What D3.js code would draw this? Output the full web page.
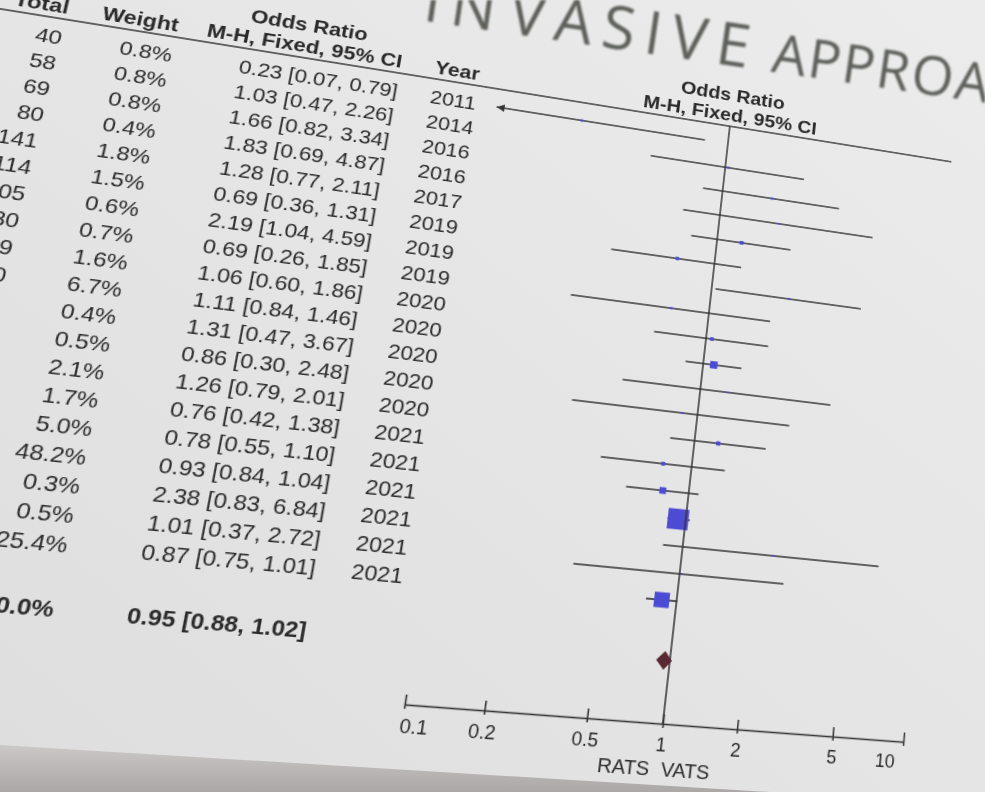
<!DOCTYPE html>
<html>
<head>
<meta charset="utf-8">
<script src="https://cdn.jsdelivr.net/npm/d3@7"></script>
<style>
  html, body { margin: 0; padding: 0; width: 985px; height: 792px; overflow: hidden; background: #e6e6e6; }
  #bg, #title { position: absolute; left: 0; top: 0; }
  #title { filter: blur(0.8px); }
  #plane { position: absolute; left: 0; top: 0; transform-origin: 0 0; filter: blur(0.4px); }
  #plane text { font-family: "Liberation Sans", Arial, sans-serif; fill: #2a2a2a; }
</style>
</head>
<body>
<svg id="bg" width="985" height="792"></svg>
<div id="plane"></div>
<svg id="title" width="985" height="792"></svg>
<script>

//  Data

var studyTotal = ["40", "58", "69", "80", "141", "114", "105", "230", "39", "80", "49", "70", "61", "", "", "", "", "", ""];
var weightPct  = [0.8, 0.8, 0.8, 0.4, 1.8, 1.5, 0.6, 0.7, 1.6, 6.7, 0.4, 0.5, 2.1, 1.7, 5.0, 48.2, 0.3, 0.5, 25.4];
var oddsRatio  = [0.23, 1.03, 1.66, 1.83, 1.28, 0.69, 2.19, 0.69, 1.06, 1.11, 1.31, 0.86, 1.26, 0.76, 0.78, 0.93, 2.38, 1.01, 0.87];
var ciLow      = [0.07, 0.47, 0.82, 0.69, 0.77, 0.36, 1.04, 0.26, 0.60, 0.84, 0.47, 0.30, 0.79, 0.42, 0.55, 0.84, 0.83, 0.37, 0.75];
var ciHigh     = [0.79, 2.26, 3.34, 4.87, 2.11, 1.31, 4.59, 1.85, 1.86, 1.46, 3.67, 2.48, 2.01, 1.38, 1.10, 1.04, 6.84, 2.72, 1.01];
var studyYear  = [2011, 2014, 2016, 2016, 2017, 2019, 2019, 2019, 2020, 2020, 2020, 2020, 2020, 2021, 2021, 2021, 2021, 2021, 2021];
var pooledOR   = [0.95, 0.88, 1.02];   // estimate, low, high
var pooledWeight = "100.0%";
var tickValues = [0.1, 0.2, 0.5, 1, 2, 5, 10];
var favourLabels = ["RATS", "VATS"];


//  Layout of the flat sheet (before the camera tilt)

var OFF = 300;                 // room on the left for the cut off columns
var ROW_H = 27;
var Y_HEAD = 100;              // header underline
var ROW0 = 120;                // first study row
var TOTAL_Y = ROW0 + 18 * ROW_H + 58;
var AXIS_Y = TOTAL_Y + 60;
var COL_TOTAL = 148, COL_WEIGHT = 248, COL_OR = 386, COL_YEAR = 494;
var PLOT_X0 = 560, PLOT_X1 = 1040;
var FONT = 21;

var x = d3.scaleLog().domain([0.1, 10]).range([PLOT_X0, PLOT_X1]);
var boxSize = d3.scaleSqrt().domain([0, 50]).range([0, 21]);
function rowY(i) { return ROW0 + i * ROW_H; }
function fmt(v) { return v.toFixed(2); }


//  Camera: flat sheet point -> where it sits in the photo

var camera = [
    [PLOT_X0, AXIS_Y, 400, 697],
    [PLOT_X1, AXIS_Y, 906, 727],
    [x(1), AXIS_Y, 666, 714],
    [x(1), Y_HEAD, 732, 136],
    [COL_OR - 84.5, rowY(0), 227, 65],
    [COL_OR - 84.5, rowY(18), 130, 562],
    [PLOT_X0, rowY(0), 493, 100],
    [x(0.47), rowY(1), 648, 155],
    [x(2.26), rowY(1), 805, 183],
    [x(6.84), rowY(16), 884, 571],
    [x(0.93), rowY(15), 680, 525],
    [x(0.87), rowY(18), 662, 605],
    [x(0.95), TOTAL_Y, 664, 660],
    [COL_TOTAL, rowY(0), 75, 32],
    [COL_WEIGHT, rowY(0), 177, 44],
    [COL_YEAR, rowY(0), 418, 98],
    [COL_WEIGHT, rowY(18), 72, 550],
    [COL_YEAR, rowY(18), 340, 582]
];

function fitHomography(pairs){
    var s = 1000;
    var M = [], B = [];
    for (var i = 0; i < 8; i++) { M.push([0, 0, 0, 0, 0, 0, 0, 0]); B.push(0); }

    pairs.forEach(function(p){
        var px = (p[0] + OFF) / s, py = p[1] / s, u = p[2] / s, v = p[3] / s;
        var rows = [
            [px, py, 1, 0, 0, 0, -u * px, -u * py, u],
            [0, 0, 0, px, py, 1, -v * px, -v * py, v]
        ];
        rows.forEach(function(r){
            for (var a = 0; a < 8; a++){
                for (var b = 0; b < 8; b++) M[a][b] += r[a] * r[b];
                B[a] += r[a] * r[8];
            }
        });
    });

    // gaussian elimination
    for (var c = 0; c < 8; c++){
        var piv = c;
        for (var r = c + 1; r < 8; r++) if (Math.abs(M[r][c]) > Math.abs(M[piv][c])) piv = r;
        var tmp = M[c]; M[c] = M[piv]; M[piv] = tmp;
        var tb = B[c]; B[c] = B[piv]; B[piv] = tb;
        for (r = c + 1; r < 8; r++){
            var f = M[r][c] / M[c][c];
            for (var k = c; k < 8; k++) M[r][k] -= f * M[c][k];
            B[r] -= f * B[c];
        }
    }
    var h = [];
    for (c = 7; c >= 0; c--){
        var sum = B[c];
        for (k = c + 1; k < 8; k++) sum -= M[c][k] * h[k];
        h[c] = sum / M[c][c];
    }
    return [h[0], h[1], h[2] * s, h[3], h[4], h[5] * s, h[6] / s, h[7] / s];
}

var H = fitHomography(camera);
d3.select("#plane").style("transform",
    "matrix3d(" + [H[0], H[3], 0, H[6], H[1], H[4], 0, H[7], 0, 0, 1, 0, H[2], H[5], 0, 1].join(",") + ")");


//  Background of the photo

var bg = d3.select("#bg");
var defs = bg.append("defs");
var g1 = defs.append("linearGradient").attr("id", "paper").attr("x1", 1).attr("y1", 0).attr("x2", 0).attr("y2", 1);
g1.append("stop").attr("offset", 0).attr("stop-color", "#ececec");
g1.append("stop").attr("offset", 1).attr("stop-color", "#dedede");
var g2 = defs.append("linearGradient").attr("id", "edge").attr("x1", 0).attr("y1", 0).attr("x2", 0).attr("y2", 1);
g2.append("stop").attr("offset", 0).attr("stop-color", "#cdc8c8");
g2.append("stop").attr("offset", 1).attr("stop-color", "#aca7a7");

bg.append("rect").attr("width", 985).attr("height", 792).attr("fill", "url(#paper)");
bg.append("polygon").attr("points", "0,745 770,792 0,792").attr("fill", "url(#edge)");


//  Flat sheet

var svg = d3.select("#plane")
    .append("svg")
    .attr("width", OFF + 1100)
    .attr("height", 800)
    .append("g")
    .attr("transform", "translate(" + OFF + ",0)");

// header
var head = svg.append("g").style("font-size", FONT + "px").style("font-weight", "bold");
head.append("text").attr("x", COL_TOTAL).attr("y", Y_HEAD - 6).attr("text-anchor", "end").text("Total");
head.append("text").attr("x", COL_WEIGHT).attr("y", Y_HEAD - 6).attr("text-anchor", "end").text("Weight");
head.append("text").attr("x", COL_OR - 18).attr("y", Y_HEAD - 29).attr("text-anchor", "middle").text("Odds Ratio");
head.append("text").attr("x", COL_OR - 18).attr("y", Y_HEAD - 6).attr("text-anchor", "middle").text("M-H, Fixed, 95% CI");
head.append("text").attr("x", COL_YEAR).attr("y", Y_HEAD - 6).text("Year");
head.append("text").attr("x", x(1)).attr("y", Y_HEAD - 29).attr("text-anchor", "middle").text("Odds Ratio");
head.append("text").attr("x", x(1)).attr("y", Y_HEAD - 6).attr("text-anchor", "middle").text("M-H, Fixed, 95% CI");

svg.append("line")
    .attr("x1", -OFF).attr("x2", PLOT_X1 + 6)
    .attr("y1", Y_HEAD).attr("y2", Y_HEAD)
    .attr("stroke", "#333").attr("stroke-width", 1.6);

// table columns
var rows = svg.selectAll("g.row")
    .data(oddsRatio)
    .enter()
    .append("g")
    .attr("class", "row")
    .attr("transform", function(d, i) { return "translate(0," + rowY(i) + ")"; })
    .style("font-size", FONT + "px");

rows.append("text").attr("x", COL_TOTAL).attr("dy", "0.35em").attr("text-anchor", "end")
    .text(function(d, i) { return studyTotal[i]; });
rows.append("text").attr("x", COL_WEIGHT).attr("dy", "0.35em").attr("text-anchor", "end")
    .text(function(d, i) { return weightPct[i].toFixed(1) + "%"; });
rows.append("text").attr("x", COL_OR).attr("dy", "0.35em").attr("text-anchor", "middle")
    .text(function(d, i) { return fmt(d) + " [" + fmt(ciLow[i]) + ", " + fmt(ciHigh[i]) + "]"; });
rows.append("text").attr("x", COL_YEAR).attr("dy", "0.35em")
    .text(function(d, i) { return studyYear[i]; });

// total row
var tot = svg.append("g").attr("transform", "translate(0," + TOTAL_Y + ")")
    .style("font-size", FONT + "px").style("font-weight", "bold");
tot.append("text").attr("x", COL_WEIGHT).attr("dy", "0.35em").attr("text-anchor", "end").text(pooledWeight);
tot.append("text").attr("x", COL_OR).attr("dy", "0.35em").attr("text-anchor", "middle")
    .text(fmt(pooledOR[0]) + " [" + fmt(pooledOR[1]) + ", " + fmt(pooledOR[2]) + "]");

// line of no effect
svg.append("line")
    .attr("x1", x(1)).attr("x2", x(1))
    .attr("y1", Y_HEAD).attr("y2", AXIS_Y)
    .attr("stroke", "#333").attr("stroke-width", 1.5);

// confidence intervals
rows.append("line")
    .attr("x1", function(d, i) { return x(Math.max(ciLow[i], 0.1)); })
    .attr("x2", function(d, i) { return x(Math.min(ciHigh[i], 10)); })
    .attr("stroke", "#333").attr("stroke-width", 1.6);

// arrow where the interval runs off the scale
rows.filter(function(d, i) { return ciLow[i] < 0.1; })
    .append("path")
    .attr("d", "M" + x(0.1) + ",0l8,-4v8z")
    .attr("fill", "#333");

// study boxes
rows.append("rect")
    .attr("x", function(d, i) { return x(d) - Math.max(boxSize(weightPct[i]), 2) / 2; })
    .attr("y", function(d, i) { return -Math.max(boxSize(weightPct[i]), 2) / 2; })
    .attr("width", function(d, i) { return Math.max(boxSize(weightPct[i]), 2); })
    .attr("height", function(d, i) { return Math.max(boxSize(weightPct[i]), 2); })
    .attr("fill", "#4b4bd4");

// pooled diamond
svg.append("path")
    .attr("d", "M" + x(pooledOR[1]) + "," + TOTAL_Y +
               "L" + x(pooledOR[0]) + "," + (TOTAL_Y - 9) +
               "L" + x(pooledOR[2]) + "," + TOTAL_Y +
               "L" + x(pooledOR[0]) + "," + (TOTAL_Y + 9) + "Z")
    .attr("fill", "#5a2a33");

// axis
var axis = svg.append("g")
    .attr("transform", "translate(0," + AXIS_Y + ")")
    .call(d3.axisBottom(x).tickValues(tickValues).tickSize(4).tickSizeOuter(0).tickPadding(9)
        .tickFormat(function(d) { return String(d); }));
axis.select(".domain").attr("stroke", "#333").attr("stroke-width", 1.6);
axis.selectAll(".tick line").attr("y1", -9).attr("stroke", "#333").attr("stroke-width", 1.5);
axis.selectAll(".tick text")
    .style("font-size", "18px")
    .style("font-family", "Liberation Sans, Arial, sans-serif")
    .attr("fill", "#2a2a2a")
    // end labels sit inside the axis, as RevMan draws them
    .attr("text-anchor", function(d, i) { return i === 0 ? "start" : (i === tickValues.length - 1 ? "end" : "middle"); })
    .attr("x", function(d, i) { return i === 0 ? -2 : (i === tickValues.length - 1 ? -8 : 0); });

svg.append("text").attr("x", x(1) - 8).attr("y", AXIS_Y + 42).attr("dy", "0.35em")
    .attr("text-anchor", "end").style("font-size", "19px").text(favourLabels[0]);
svg.append("text").attr("x", x(1) + 3).attr("y", AXIS_Y + 42).attr("dy", "0.35em")
    .style("font-size", "19px").text(favourLabels[1]);


//  Slide title, cut by the frame (nearer letters on the left look larger)

var title = d3.select("#title").append("g").attr("transform", "rotate(8.3,507,33)")
    .style("font-family", "Open Sans, sans-serif").attr("fill", "#5c5f5a");
title.append("text").attr("x", 503).attr("y", 33).attr("text-anchor", "end")
    .style("font-size", "60px").style("letter-spacing", "10px").text("IN");
title.append("text").attr("x", 507).attr("y", 33)
    .style("font-size", "60px").style("letter-spacing", "10px").text("VASIVE");
title.append("text").attr("x", 773).attr("y", 33)
    .style("font-size", "54px").style("letter-spacing", "2px").text("APPROACH");

</script>
</body>
</html>
